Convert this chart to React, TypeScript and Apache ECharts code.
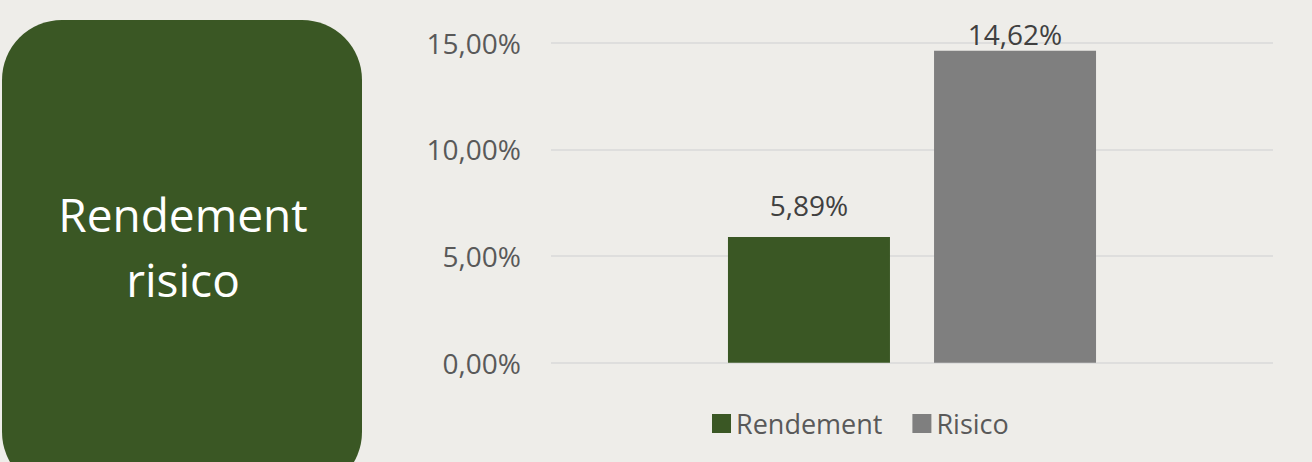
import React, { useEffect, useRef } from "react";
import * as echarts from "echarts";

const categories = [""];
const seriesNames = ["Rendement", "Risico"];
const rendementValues = [5.89];
const risicoValues = [14.62];
const yTicks = [0, 5, 10, 15];
const titleLines = ["Rendement", "risico"];

const fmt = (v: number) => v.toFixed(2).replace(".", ",") + "%";

export default function App() {
  const ref = useRef<HTMLDivElement>(null);
  useEffect(() => {
    if (!ref.current) return;
    const chart = echarts.init(ref.current, null, { renderer: "svg" });
    const font = "Open Sans";
    chart.setOption({
      animation: false,
      backgroundColor: "#eeede9",
      textStyle: { fontFamily: font },
      graphic: [
        {
          type: "rect",
          shape: { x: 2, y: 20, width: 360, height: 472, r: 60 },
          style: { fill: "#3a5724" },
          z: 0,
        },
        {
          type: "text",
          x: 183,
          y: 246,
          style: {
            text: titleLines.join("\n"),
            fill: "#ffffff",
            font: `46px '${font}'`,
            lineHeight: 65,
            align: "center",
            verticalAlign: "middle",
          },
          z: 1,
        },
      ],
      legend: {
        left: 707,
        top: 405,
        itemWidth: 19,
        itemHeight: 19,
        itemGap: 30,
        icon: "rect",
        textStyle: { color: "#595959", fontSize: 27, fontFamily: font, padding: [0, 0, 0, 0] },
        data: seriesNames,
      },
      grid: { left: 551, right: 39, top: 42.7, bottom: 99.3, containLabel: false },
      xAxis: {
        type: "category",
        data: categories,
        axisLine: { show: false },
        axisTick: { show: false },
        axisLabel: { show: false },
      },
      yAxis: {
        type: "value",
        min: yTicks[0],
        max: yTicks[yTicks.length - 1],
        interval: 5,
        axisLine: { show: false },
        axisTick: { show: false },
        splitLine: { lineStyle: { color: "#d9d9d9", width: 1.5 } },
        axisLabel: {
          color: "#595959",
          fontSize: 28,
          fontFamily: font,
          margin: 30,
          padding: [0, 0, 5, 0],
          formatter: (v: number) => fmt(v),
        },
      },
      series: [
        {
          name: seriesNames[0],
          type: "bar",
          data: rendementValues,
          barWidth: 162,
          barGap: "27.2%",
          itemStyle: { color: "#3a5724" },
          label: {
            show: true,
            position: "top",
            distance: 18,
            color: "#404040",
            fontSize: 28,
            fontFamily: font,
            formatter: (p: any) => fmt(p.value),
          },
        },
        {
          name: seriesNames[1],
          type: "bar",
          data: risicoValues,
          barWidth: 162,
          itemStyle: { color: "#7f7f7f" },
          label: {
            show: true,
            position: "top",
            distance: 3,
            color: "#404040",
            fontSize: 28,
            fontFamily: font,
            formatter: (p: any) => fmt(p.value),
          },
        },
      ],
    });
    return () => chart.dispose();
  }, []);
  return (
    <div
      ref={ref}
      style={{ position: "fixed", left: 0, top: 0, width: 1312, height: 462 }}
    />
  );
}
